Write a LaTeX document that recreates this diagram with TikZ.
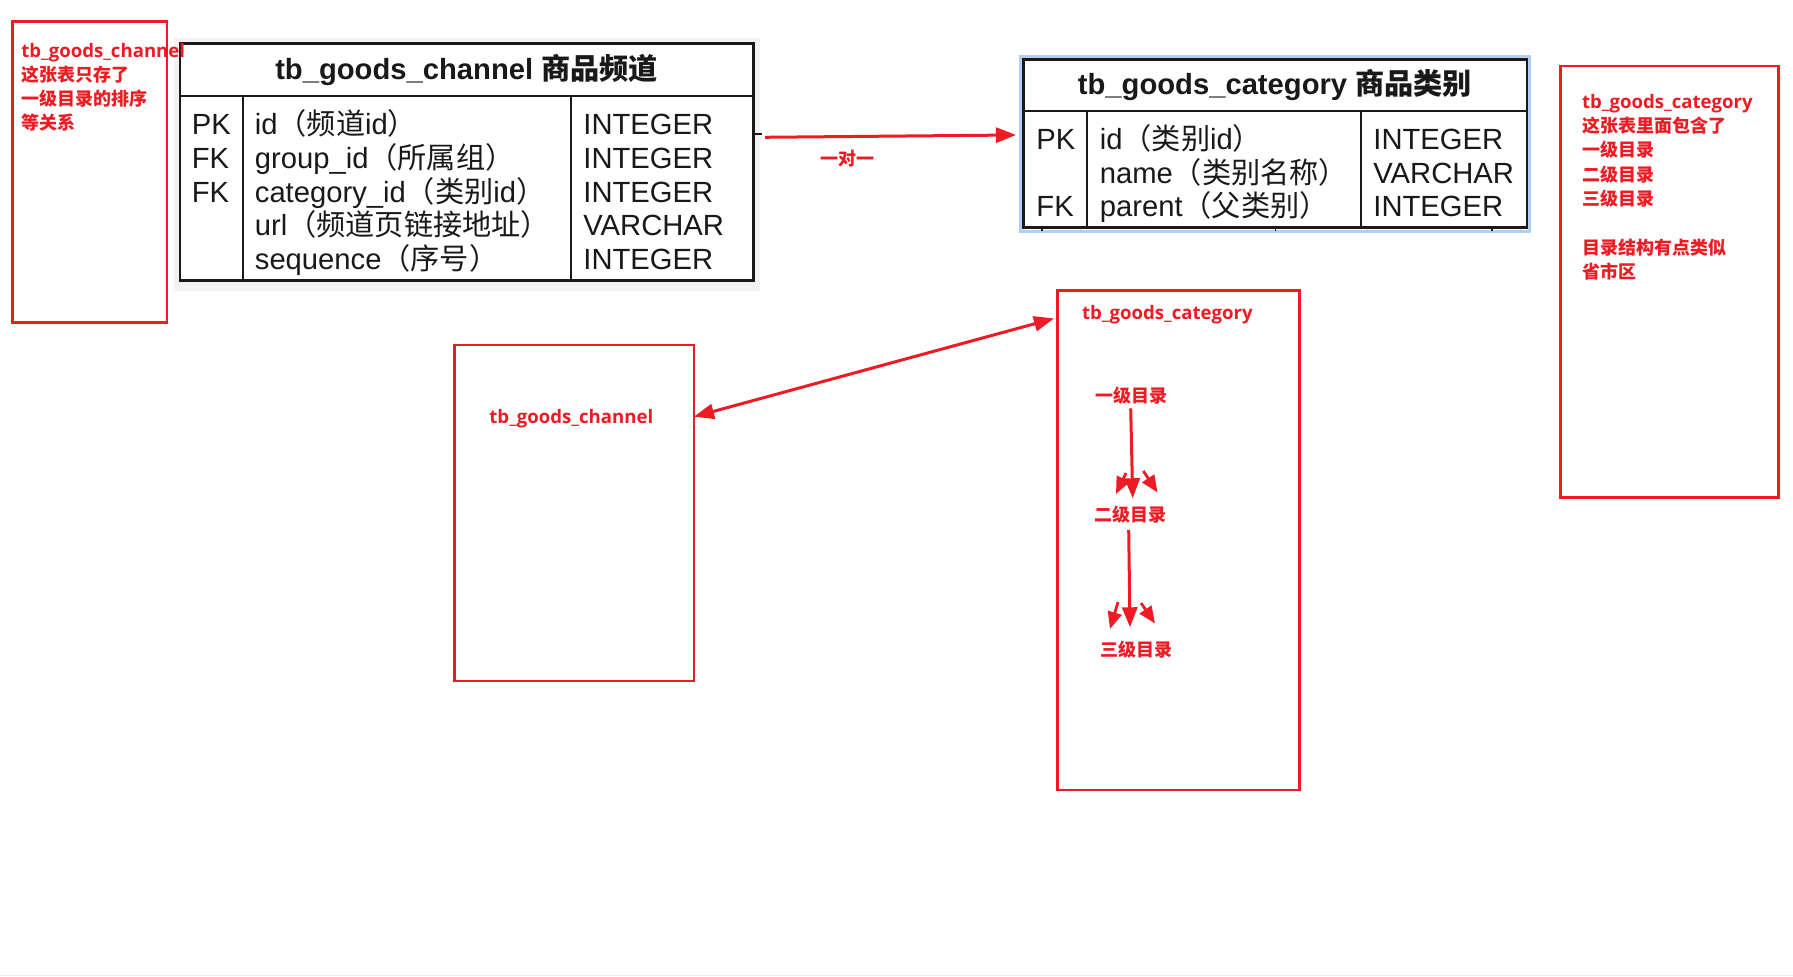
\documentclass[tikz,border=0pt]{standalone}
\usepackage{fontspec}
\setmainfont{Liberation Sans}
\newfontfamily\cjk{Noto Sans CJK SC}
\newfontfamily\osans{Open Sans}
\usetikzlibrary{arrows.meta,calc}
\definecolor{annred}{RGB}{237,28,36}
\definecolor{ink}{RGB}{25,25,25}
\definecolor{glow}{RGB}{178,206,242}
\newcommand\zhx[1]{{\cjk #1}}
\begin{document}
\begin{tikzpicture}[x=0.5pt,y=-0.5pt,
  annbox/.style={draw=annred, line width=1.3pt},
  anntxt/.style={text=annred, font=\osans\bfseries\fontsize{9.3pt}{12pt}\selectfont, inner sep=0pt, anchor=base west},
  anncjk/.style={text=annred, font=\cjk\bfseries\fontsize{9pt}{12pt}\selectfont, inner sep=0pt},
  tbl/.style={draw=ink, line width=1.1pt},
  cell/.style={text=ink, font=\fontsize{14.6pt}{17pt}\selectfont, inner sep=0pt, anchor=base west},
  hdr/.style={text=ink, font=\bfseries\fontsize{14.6pt}{17pt}\selectfont, inner sep=0pt, anchor=base},
  redarrow/.style={draw=annred, line width=1.5pt, -{Triangle[length=10pt,width=7.5pt]}},
  redtwo/.style={draw=annred, line width=1.5pt, {Triangle[length=10pt,width=7.5pt]}-{Triangle[length=10pt,width=7.5pt]}},
  sidearrow/.style={draw=annred, line width=1.4pt, -{Triangle[length=8.5pt,width=7pt]}}
]
\useasboundingbox (0,0) rectangle (1793,977);
\fill[white] (0,0) rectangle (1793,977);
\draw[gray!15, line width=0.5pt] (0,975.5) -- (1793,975.5);

% ---------- channel table ----------
\fill[gray!10] (173.6,37.7) rectangle (760.4,291);
\fill[white] (180,43.5) rectangle (753.5,280.5);
\draw[tbl] (180,43.5) rectangle (753.5,280.5);
\draw[tbl] (180,96) -- (753.5,96);
\draw[tbl] (242.6,96) -- (242.6,280.5);
\draw[tbl] (571,96) -- (571,280.5);
\draw[ink, line width=0.9pt] (753.5,134.3) -- (762,134.3);
\node[hdr] (chh) at (466.7,80) {tb\_goods\_channel \zhx{\bfseries 商品频道}};
\node[cell] (c1k) at (191.5,135) {PK};
\node[cell] (c2k) at (191.5,168.6) {FK};
\node[cell] (c3k) at (191.5,202.2) {FK};
\node[cell] (c1n) at (254.5,135) {id\zhx{（频道}id\zhx{）}};
\node[cell] (c2n) at (254.5,168.6) {group\_id\zhx{（所属组）}};
\node[cell] (c3n) at (254.5,202.2) {category\_id\zhx{（类别}id\zhx{）}};
\node[cell] (c4n) at (254.5,235.8) {url\zhx{（频道页链接地址）}};
\node[cell] (c5n) at (254.5,269.4) {sequence\zhx{（序号）}};
\node[cell] (c1t) at (583,135) {INTEGER};
\node[cell] (c2t) at (583,168.6) {INTEGER};
\node[cell] (c3t) at (583,202.2) {INTEGER};
\node[cell] (c4t) at (583,235.8) {VARCHAR};
\node[cell] (c5t) at (583,269.4) {INTEGER};

% ---------- left annotation ----------
\draw[annbox] (12.4,21.7) rectangle (167,322.7);
\node[anntxt] (la1) at (20.9,57.5) {tb\_goods\_channel};
\node[anncjk, anchor=base west] (la2) at (20.9,81.5) {这张表只存了};
\node[anncjk, anchor=base west] (la3) at (20.9,105.5) {一级目录的排序};
\node[anncjk, anchor=base west] (la4) at (20.9,129.5) {等关系};

% ---------- category table ----------
\draw[glow, line width=1.8pt] (1020.5,56.5) rectangle (1529.6,231.5);
\fill[white] (1023.5,59.5) rectangle (1526.6,227.6);
\draw[tbl] (1023.5,59.5) rectangle (1526.6,227.6);
\draw[tbl] (1023.5,110.7) -- (1526.6,110.7);
\draw[tbl] (1086.8,110.7) -- (1086.8,227.6);
\draw[tbl] (1361,110.7) -- (1361,227.6);
\foreach \tx in {1041.7,1275.5,1492} \draw[ink, line width=0.8pt] (\tx,227.6) -- (\tx,231.5);
\node[hdr] (cah) at (1275,95) {tb\_goods\_category \zhx{\bfseries 商品类别}};
\node[cell] (g1k) at (1036,150) {PK};
\node[cell] (g3k) at (1036,216.8) {FK};
\node[cell] (g1n) at (1099.5,150) {id\zhx{（类别}id\zhx{）}};
\node[cell] (g2n) at (1099.5,183.4) {name\zhx{（类别名称）}};
\node[cell] (g3n) at (1099.5,216.8) {parent\zhx{（父类别）}};
\node[cell] (g1t) at (1373,150) {INTEGER};
\node[cell] (g2t) at (1373,183.4) {VARCHAR};
\node[cell] (g3t) at (1373,216.8) {INTEGER};

% ---------- one-to-one arrow ----------
\coordinate (o1) at (765,137.3);
\coordinate (o2) at (1016,135);
\draw[redarrow] (o1) -- (o2);
\node[anncjk] (one) at (847.5,158.3) {一对一};

% ---------- right annotation ----------
\draw[annbox] (1560.7,66) rectangle (1778.3,497.7);
\node[anntxt] (ra1) at (1581.7,108.3) {tb\_goods\_category};
\node[anncjk, anchor=base west] (ra2) at (1581.7,132.6) {这张表里面包含了};
\node[anncjk, anchor=base west] (ra3) at (1581.7,156.9) {一级目录};
\node[anncjk, anchor=base west] (ra4) at (1581.7,181.2) {二级目录};
\node[anncjk, anchor=base west] (ra5) at (1581.7,205.5) {三级目录};
\node[anncjk, anchor=base west] (ra6) at (1581.7,254.1) {目录结构有点类似};
\node[anncjk, anchor=base west] (ra7) at (1581.7,278.4) {省市区};

% ---------- middle boxes ----------
\draw[annbox] (454.3,345) rectangle (694,681);
\node[anntxt] (mch) at (489,423.3) {tb\_goods\_channel};
\draw[annbox] (1057.3,290.7) rectangle (1299.3,790);
\node[anntxt] (mca) at (1081.7,319.5) {tb\_goods\_category};
\coordinate (d1) at (694,416.7);
\coordinate (d2) at (1054,318.5);
\draw[redtwo] (d1) -- (d2);

\node[anncjk] (l1) at (1131,396) {一级目录};
\node[anncjk] (l2) at (1130,514.3) {二级目录};
\node[anncjk] (l3) at (1136,649.3) {三级目录};

\coordinate (v1s) at (1130.7,408.3);
\coordinate (v1e) at (1132.7,498.3);
\coordinate (v2s) at (1128.7,530);
\coordinate (v2e) at (1130,627.3);
\draw[redarrow] (v1s) -- (v1e);
\draw[redarrow] (v2s) -- (v2e);
\coordinate (s1a) at (1126,473); \coordinate (s1b) at (1116,494);
\coordinate (s2a) at (1143.3,471); \coordinate (s2b) at (1157.5,492.5);
\coordinate (s3a) at (1118,602); \coordinate (s3b) at (1110,629);
\coordinate (s4a) at (1141,603); \coordinate (s4b) at (1155,623.5);
\draw[sidearrow] (s1a) -- (s1b);
\draw[sidearrow] (s2a) -- (s2b);
\draw[sidearrow] (s3a) -- (s3b);
\draw[sidearrow] (s4a) -- (s4b);
\end{tikzpicture}
\end{document}
